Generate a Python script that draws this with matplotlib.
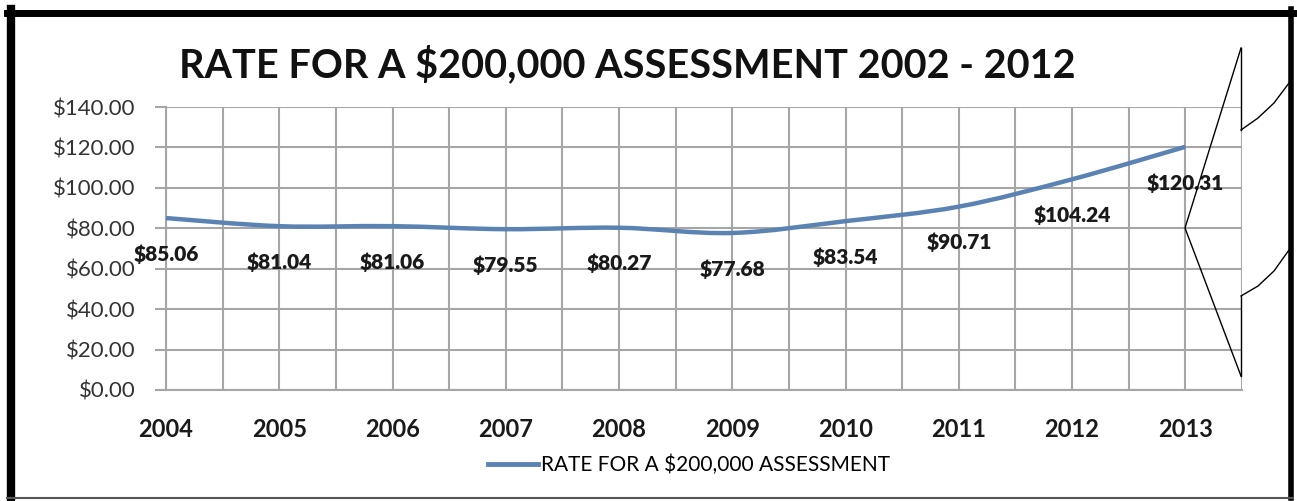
import matplotlib.pyplot as plt
from matplotlib.path import Path
from matplotlib.patches import PathPatch
from matplotlib.lines import Line2D

years = ['2004', '2005', '2006', '2007', '2008', '2009', '2010', '2011', '2012', '2013']
rates = [85.06, 81.04, 81.06, 79.55, 80.27, 77.68, 83.54, 90.71, 104.24, 120.31]
y_ticks = [0, 20, 40, 60, 80, 100, 120, 140]
title = 'RATE FOR A $200,000 ASSESSMENT 2002 - 2012'
series_name = 'RATE FOR A $200,000 ASSESSMENT'

line_color = '#5a83b3'
grid_color = '#a6a6a6'
font = 'Lato'

fig = plt.figure(figsize=(12.97, 5.01), dpi=100)
ax = fig.add_axes([166 / 1297, 1 - 390 / 501, (1242 - 166) / 1297, (390 - 107) / 501])

# smoothed line, like the spreadsheet "smoothed line" option (bezier through the points)
xs = list(range(len(rates)))
pts = list(zip(xs, rates))
verts = [pts[0]]
codes = [Path.MOVETO]
for i in range(len(pts) - 1):
    p0 = pts[max(i - 1, 0)]
    p1 = pts[i]
    p2 = pts[i + 1]
    p3 = pts[min(i + 2, len(pts) - 1)]
    c1 = (p1[0] + (p2[0] - p0[0]) / 6, p1[1] + (p2[1] - p0[1]) / 6)
    c2 = (p2[0] - (p3[0] - p1[0]) / 6, p2[1] - (p3[1] - p1[1]) / 6)
    verts += [c1, c2, p2]
    codes += [Path.CURVE4] * 3
ax.add_patch(PathPatch(Path(verts, codes), facecolor='none', edgecolor=line_color,
                       lw=3.2, capstyle='butt', zorder=3))

for x, v in zip(xs, rates):
    ax.annotate('${:.2f}'.format(v), (x, v), xytext=(0, -36), textcoords='offset pixels',
                ha='center', va='center', fontsize=15, fontweight='heavy',
                family=font, color='#1a1a1a', zorder=4)

ax.set_xlim(0, 9.5)
ax.set_ylim(0, 140)
ax.set_xticks(xs)
ax.set_xticklabels(years, fontsize=17, fontweight='bold', family=font, color='#1a1a1a')
ax.set_xticks([i * 0.5 for i in range(20)], minor=True)
ax.set_yticks(y_ticks)
ax.set_yticklabels(['${:.2f}'.format(t) for t in y_ticks], fontsize=16, family=font,
                   color='#333333')
ax.tick_params(axis='x', which='both', length=0, pad=20)
ax.tick_params(axis='y', length=8, width=1.5, color=grid_color, pad=14)
ax.grid(True, which='both', color=grid_color, lw=1.5)
ax.set_axisbelow(True)
for s in ['top', 'right']:
    ax.spines[s].set_visible(False)
for s in ['left', 'bottom']:
    ax.spines[s].set_color(grid_color)
    ax.spines[s].set_linewidth(1.5)

fig.text(627 / 1297, 1 - 65 / 501, title, ha='center', va='center', fontsize=28.5,
         fontweight='bold', family=font, color='#111111')

handle = Line2D([], [], color=line_color, lw=3.5)
fig.legend([handle], [series_name], loc='center', bbox_to_anchor=(689 / 1297, 1 - 465 / 501),
           frameon=False, prop={'family': font, 'size': 15}, handlelength=2.4,
           handletextpad=0.15)

# outer border
W, H = 1297, 501
def fline(xp, yp, **kw):
    fig.add_artist(Line2D([x / W for x in xp], [1 - y / H for y in yp],
                          transform=fig.transFigure, **kw))

fline([11, 11], [9, 498], color='black', lw=6)
fline([7, 1293], [12.5, 12.5], color='black', lw=5)
fline([1290.5, 1290.5], [9, 498], color='black', lw=4)
fline([7, 1293], [498, 498], color='#555555', lw=1.5)

# callout arrow shape at the right
fline([1241, 1241], [48, 130], color='black', lw=1)
fline([1241, 1185, 1241], [48, 228, 376], color='black', lw=1)
fline([1241, 1241], [296, 376], color='black', lw=1)
fline([1241, 1258, 1274, 1289], [130, 118, 103, 83], color='black', lw=1)
fline([1241, 1258, 1274, 1289], [296, 286, 271, 250], color='black', lw=1)

fig.savefig('out.png', dpi=100)
